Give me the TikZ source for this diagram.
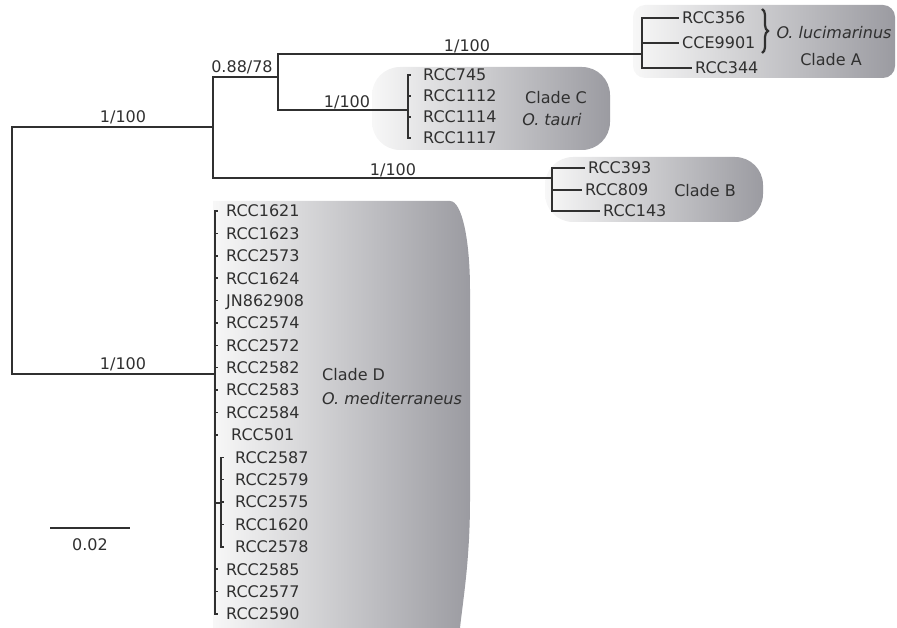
\documentclass[tikz,border=0pt]{standalone}
\usepackage{fontspec}
\setmainfont{DejaVu Sans}
\usetikzlibrary{decorations.pathreplacing}
\definecolor{ink}{HTML}{303030}
\definecolor{boxdark}{RGB}{155,155,161}
\begin{document}
\begin{tikzpicture}[x=1pt,y=-1pt,
  every node/.style={font=\fontsize{16}{18}\selectfont, text=ink, inner sep=0pt, text height=11.7pt, text depth=0pt},
  br/.style={draw=ink, line width=1.5pt},
  leaf/.style={anchor=west},
  cladebox/.style={left color=white!97!black, right color=boxdark}]
\useasboundingbox (0,0) rectangle (897,628);

% clade boxes
\shade[cladebox, rounded corners=12pt] (633,5) rectangle (895,78);
\shade[cladebox, rounded corners=28pt] (372,67) rectangle (610,150);
\shade[cladebox, rounded corners=28pt] (545,157) rectangle (763,222);
\shade[cladebox] (213,201) -- (450,201) .. controls (462,201) and (470,240) .. (470,290)
   -- (470,500) .. controls (470,560) and (463,600) .. (460,628) -- (213,628) -- cycle;

% internal nodes
\coordinate (root) at (12,250);
\coordinate (n1) at (213,127);
\coordinate (n2) at (278,77);
\coordinate (nA) at (642,54);
\coordinate (nC) at (408,110);
\coordinate (nB) at (552,178);
\coordinate (nD) at (215,374);
\coordinate (nD2) at (221,503);

\draw[br] (root) |- (n1);
\draw[br] (root) |- (nD);
\draw[br] (n1) |- (n2);
\draw[br] (n1) |- (nB);
\draw[br] (n2) |- (nA);
\draw[br] (n2) |- (nC);
\draw[br] (nD) |- (nD2);

% support labels
\node (s1) at (123,117) {1/100};
\node (s2) at (123,364) {1/100};
\node (s3) at (242,67) {0.88/78};
\node (s4) at (467,46) {1/100};
\node (s5) at (347,102) {1/100};
\node (s6) at (393,170) {1/100};

% clade A
\node[leaf] (a1) at (682,18) {RCC356};
\node[leaf] (a2) at (682,43) {CCE9901};
\node[leaf] (a3) at (695,68) {RCC344};
\foreach \k in {a1,a2,a3} \draw[br, shorten >=3pt] (nA) |- (\k.west);
\coordinate (bt) at (762,9);
\coordinate (bb) at (762,53);
\draw[ink, line width=2.2pt, decorate, decoration={brace, amplitude=6pt}] (bt) -- (bb);
\node (olu) at (834,33) {\itshape O. lucimarinus};
\node (cA) at (831,60) {Clade A};

% clade C
\node[leaf] (c1) at (423,75) {RCC745};
\node[leaf] (c2) at (423,96) {RCC1112};
\node[leaf] (c3) at (423,117) {RCC1114};
\node[leaf] (c4) at (423,138) {RCC1117};
\foreach \k in {c1,c2,c3,c4} \draw[br, shorten >=12pt] (nC) |- (\k.west);
\node (cC) at (556,98) {Clade C};
\node (ota) at (552,120) {\itshape O. tauri};

% clade B
\node[leaf] (b1) at (588,168) {RCC393};
\node[leaf] (b2) at (585,190) {RCC809};
\node[leaf] (b3) at (603,211) {RCC143};
\foreach \k in {b1,b2,b3} \draw[br, shorten >=3pt] (nB) |- (\k.west);
\node (cB) at (705,191) {Clade B};

% clade D
\foreach \nm [count=\i from 0] in {RCC1621,RCC1623,RCC2573,RCC1624,JN862908,RCC2574,RCC2572,RCC2582,RCC2583,RCC2584}{
  \node[leaf] (d\i) at (226,211+22.39*\i) {\nm};
  \draw[br, shorten >=8pt] (nD) |- (d\i.west);
}
\node[leaf] (d10) at (231,211+22.39*10) {RCC501};
\draw[br, shorten >=13pt] (nD) |- (d10.west);
\foreach \nm [count=\i from 11] in {RCC2587,RCC2579,RCC2575,RCC1620,RCC2578}{
  \node[leaf] (d\i) at (235,211+22.39*\i) {\nm};
  \draw[br, shorten >=11pt] (nD2) |- (d\i.west);
}
\foreach \nm [count=\i from 16] in {RCC2585,RCC2577,RCC2590}{
  \node[leaf] (d\i) at (226,211+22.39*\i) {\nm};
  \draw[br, shorten >=8pt] (nD) |- (d\i.west);
}
\node[anchor=west] (cD) at (322,375) {Clade D};
\node[anchor=west] (ome) at (322,399) {\itshape O. mediterraneus};

% scale bar
\coordinate (sc1) at (50,528);
\coordinate (sc2) at (130,528);
\draw[br] (sc1) -- (sc2);
\node (scl) at (90,545) {0.02};
\end{tikzpicture}
\end{document}
